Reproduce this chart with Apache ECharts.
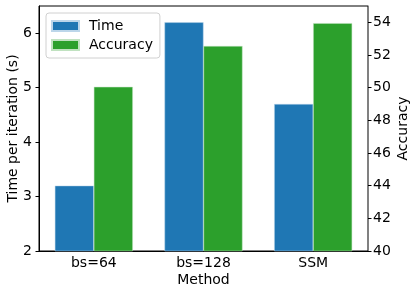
<!DOCTYPE html>
<html><head><meta charset="utf-8">
<script src="https://cdn.jsdelivr.net/npm/echarts@6/dist/echarts.min.js"></script>
<style>html,body{margin:0;padding:0;background:#fff}#c{width:416px;height:295px}</style>
</head><body><div id="c"></div>
<script>
const categories = ['bs=64', 'bs=128', 'SSM'];
const timeValues = [3.2, 6.2, 4.7];
const accuracyValues = [50.05, 52.55, 53.95];
const leftTicks = [2, 3, 4, 5, 6];
const rightTicks = [40, 42, 44, 46, 48, 50, 52, 54];

const font = 'DejaVu Sans';
const fs = 14;
const chart = echarts.init(document.getElementById('c'), null, {renderer: 'canvas'});
chart.setOption({
  animation: false,
  textStyle: {fontFamily: font},
  grid: {left: 39, right: 48, top: 6, bottom: 44, containLabel: false, outerBoundsMode: 'none',
         show: true, borderColor: '#000', borderWidth: 1, backgroundColor: 'transparent'},
  legend: {
    orient: 'vertical', left: 46, top: 13, padding: [6, 7, 6, 5],
    itemWidth: 27, itemHeight: 10, itemGap: 5,
    borderColor: '#d0d0d0', borderWidth: 1, borderRadius: 3,
    icon: 'rect',
    textStyle: {fontFamily: font, fontSize: fs, color: '#000', padding: [0, 0, 0, 5]},
    data: ['Time', 'Accuracy']
  },
  xAxis: {
    type: 'category', data: categories,
    name: 'Method', nameLocation: 'middle', nameGap: 22, nameMoveOverlap: false,
    nameTextStyle: {fontFamily: font, fontSize: fs, color: '#000'},
    axisLine: {lineStyle: {color: '#000', width: 1}},
    axisTick: {alignWithLabel: true, length: 3.5, lineStyle: {color: '#000'}},
    axisLabel: {fontFamily: font, fontSize: fs, color: '#000', margin: 5}
  },
  yAxis: [
    {
      type: 'value', min: 2, max: 6.5, interval: 1,
      name: 'Time per iteration (s)', nameLocation: 'middle', nameGap: 19, nameMoveOverlap: false,
      nameTextStyle: {fontFamily: font, fontSize: fs, color: '#000'},
      axisLine: {show: true, lineStyle: {color: '#000'}},
      axisTick: {show: true, length: 3.5, lineStyle: {color: '#000'}, customValues: leftTicks},
      axisLabel: {fontFamily: font, fontSize: fs, color: '#000', margin: 7, customValues: leftTicks},
      splitLine: {show: false}
    },
    {
      type: 'value', min: 40, max: 55, interval: 2, position: 'right',
      name: 'Accuracy', nameLocation: 'middle', nameGap: 28, nameRotate: 90, nameMoveOverlap: false,
      nameTextStyle: {fontFamily: font, fontSize: fs, color: '#000'},
      axisLine: {show: true, lineStyle: {color: '#808080'}},
      axisTick: {show: true, length: 3.5, lineStyle: {color: '#000'}, customValues: rightTicks},
      axisLabel: {fontFamily: font, fontSize: fs, color: '#000', margin: 5, customValues: rightTicks},
      splitLine: {show: false}
    }
  ],
  series: [
    {name: 'Time', type: 'bar', yAxisIndex: 0, data: timeValues, barWidth: 39, barGap: '0%',
     itemStyle: {color: '#1f77b4', borderColor: '#bcd6ea', borderWidth: 0.5}},
    {name: 'Accuracy', type: 'bar', yAxisIndex: 1, data: accuracyValues, barWidth: 39, barGap: '0%',
     itemStyle: {color: '#2ca02c', borderColor: '#c0e2c0', borderWidth: 0.5}}
  ]
});
</script></body></html>
